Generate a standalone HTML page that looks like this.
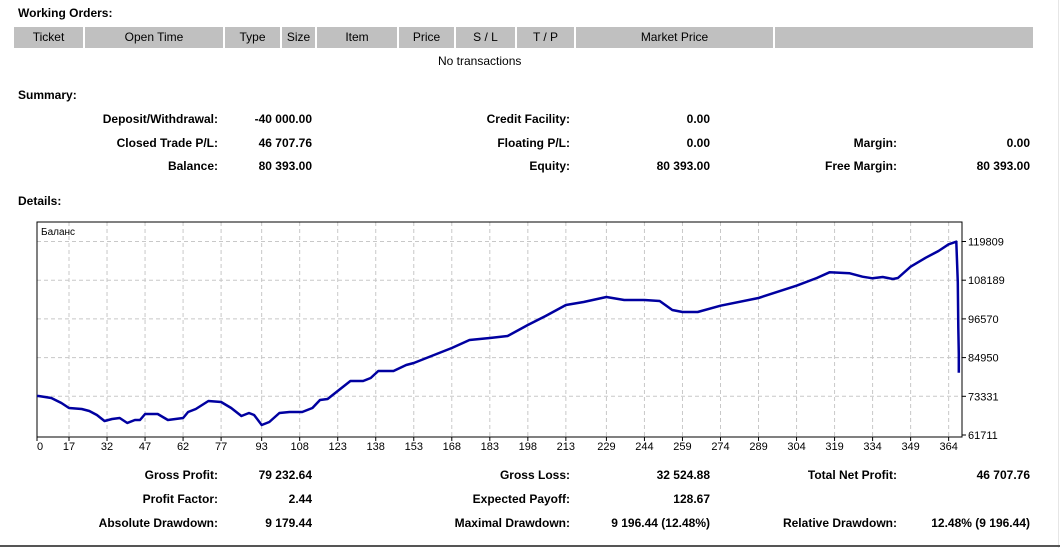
<!DOCTYPE html>
<html><head><meta charset="utf-8">
<style>
body{margin:0;width:1060px;height:548px;background:#fff;position:relative;overflow:hidden;font-family:"Liberation Sans",sans-serif;font-size:12px;color:#000}
.a{position:absolute;white-space:nowrap}
.b{font-weight:bold}
.r{text-align:right}
.h{position:absolute;top:27px;height:21px;background:#c0c0c0;line-height:21px;text-align:center;font-size:12px}
</style></head><body>
<div class="a b" style="left:18px;top:6px">Working Orders:</div>
<div class="h" style="left:14px;width:69px">Ticket</div>
<div class="h" style="left:85px;width:138px">Open Time</div>
<div class="h" style="left:225px;width:55px">Type</div>
<div class="h" style="left:282px;width:33px">Size</div>
<div class="h" style="left:317px;width:80px">Item</div>
<div class="h" style="left:399px;width:55px">Price</div>
<div class="h" style="left:456px;width:59px">S / L</div>
<div class="h" style="left:517px;width:57px">T / P</div>
<div class="h" style="left:576px;width:197px">Market Price</div>
<div class="h" style="left:775px;width:258px"></div>
<div class="a" style="left:438px;top:54px">No transactions</div>
<div class="a b" style="left:18px;top:88px">Summary:</div>
<div class="a b" style="left:18px;top:194px">Details:</div>
<div style="position:absolute;left:1058px;top:0;width:1px;height:548px;background:#e6e6e6"></div>
<div style="position:absolute;left:0;top:545px;width:1060px;height:2px;background:#555"></div>
<div id="stats"></div>
<svg id="chart" style="position:absolute;left:0;top:0" width="1060" height="548"></svg>
<script>
// stats
const rows=[
 [112,[["Deposit/Withdrawal:","-40 000.00"],["Credit Facility:","0.00"],null]],
 [136,[["Closed Trade P/L:","46 707.76"],["Floating P/L:","0.00"],["Margin:","0.00"]]],
 [159,[["Balance:","80 393.00"],["Equity:","80 393.00"],["Free Margin:","80 393.00"]]],
 [468,[["Gross Profit:","79 232.64"],["Gross Loss:","32 524.88"],["Total Net Profit:","46 707.76"]]],
 [492,[["Profit Factor:","2.44"],["Expected Payoff:","128.67"],null]],
 [516,[["Absolute Drawdown:","9 179.44"],["Maximal Drawdown:","9 196.44 (12.48%)"],["Relative Drawdown:","12.48% (9 196.44)"]]]
];
const cols=[[218,312],[570,710],[897,1030]];
const st=document.getElementById('stats');
rows.forEach(([y,items])=>items.forEach((it,ci)=>{if(!it)return;
 const l=document.createElement('div');l.className='a b r';l.style.cssText=`right:${1060-cols[ci][0]}px;top:${y}px`;l.textContent=it[0];
 
 
 const v=document.createElement('div');v.className='a b r';v.style.cssText=`right:${1060-cols[ci][1]}px;top:${y}px`;v.textContent=it[1];
 
 
 st.appendChild(l);st.appendChild(v);}));
</script>
<script>
const xTicks=[0,17,32,47,62,77,93,108,123,138,153,168,183,198,213,229,244,259,274,289,304,319,334,349,364];
const yTicks=[61711,73331,84950,96570,108189,119809];
const idx=[0,5,10,14,17,22,25,28,31,34,37,40,43,45,47,52,56,59,62,64,67,72,77,81,85,88,90,93,96,100,104,109,113,116,119,123,128,133,136,139,145,150,153,160,168,175,183,190,198,205,213,220,229,236,244,250,255,259,265,274,289,304,312,317,325,330,334,338,342,344,349,355,360,364,367,367.6,367.8,368,368];
const bal=[73419,73419,72818,71317,69816,69516,68916,67715,65914,66514,66814,65313,66214,66214,68015,68015,66214,66514,66814,68615,69516,71918,71618,69816,67415,68315,67715,64713,65614,68315,68615,68615,69816,72218,72518,74920,77922,77922,78822,80924,80924,82725,83325,85427,87828,90230,90830,91431,94733,97435,100737,101638,103139,102238,102238,101938,99236,98635,98635,100527,102838,106531,108843,110554,110254,109233,108753,109143,108543,108843,112235,114937,116948,118959,119740,107500,94000,86000,80393];
const L=37,R=962,T=222,B=437;
const xs=v=>69+(v-17)*2.535;
const ys=v=>435-(v-61711)*(38.7/11619);
const svg=document.getElementById('chart');const NS='http://www.w3.org/2000/svg';
function mk(t,a){const e=document.createElementNS(NS,t);for(const k in a)e.setAttribute(k,a[k]);svg.appendChild(e);return e;}
yTicks.forEach(v=>{const y=ys(v);
 if(v!==yTicks[0]){const g=mk('line',{x1:L,x2:R,y1:y,y2:y,stroke:'#c8c8c8','stroke-dasharray':'4,3'});
 
 }
 mk('line',{x1:R,x2:R+4,y1:y,y2:y,stroke:'#000'});
 const t=mk('text',{x:R+6,y:y+4,'font-size':11,'font-family':'Liberation Sans, sans-serif'});t.textContent=v;
 
 });
xTicks.forEach(v=>{const x=Math.max(xs(v),L);
 if(v!==0){const g=mk('line',{x1:x,x2:x,y1:T,y2:B,stroke:'#c8c8c8','stroke-dasharray':'4,3'});
 
 }
 mk('line',{x1:x,x2:x,y1:B,y2:B+4,stroke:'#000'});
 const t=mk('text',{x:v===0?x+3:x,y:B+13,'font-size':11,'text-anchor':'middle','font-family':'Liberation Sans, sans-serif'});t.textContent=v;
 
 });
const fr=mk('rect',{x:L,y:T,width:R-L,height:B-T,fill:'none',stroke:'#000'});


const lg=mk('text',{x:L+4,y:T+13,'font-size':10,'font-family':'Liberation Sans, sans-serif'});lg.textContent='Баланс';


const pts=idx.map((i,k)=>Math.max(L,xs(i)).toFixed(1)+','+ys(bal[k]).toFixed(1)).join(' ');
const pl=mk('polyline',{points:pts,fill:'none',stroke:'#0000a0','stroke-width':2.5,'stroke-linejoin':'round'});


</script>
</body></html>
